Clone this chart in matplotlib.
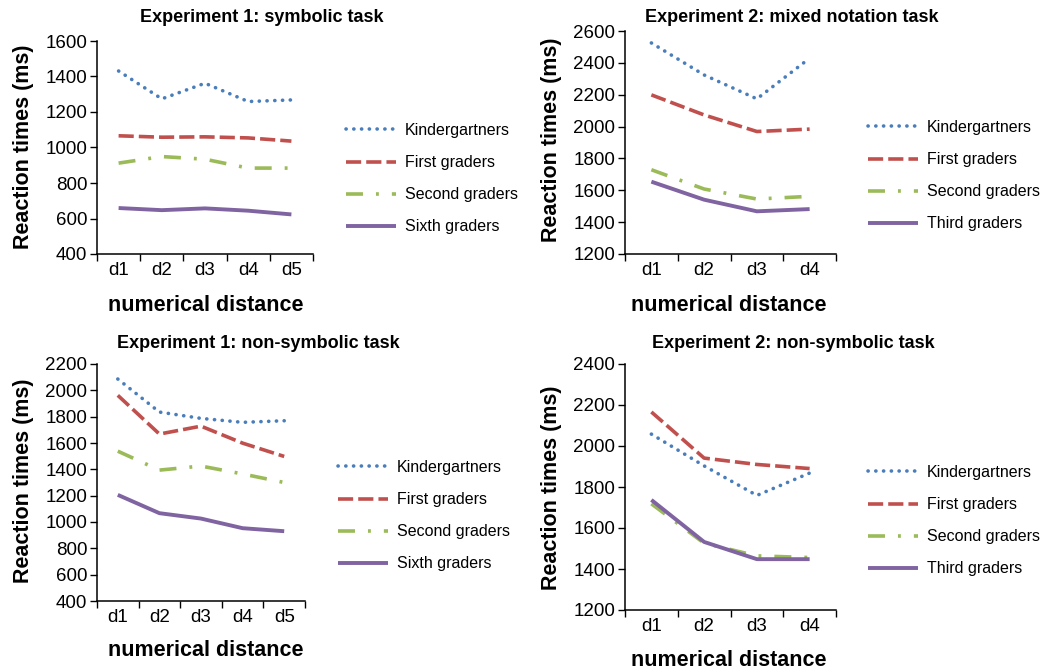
import matplotlib
matplotlib.use("Agg")
import matplotlib.pyplot as plt
import numpy as np

plt.rcParams['font.family'] = ['Liberation Sans', 'DejaVu Sans']

# ---------------- data ----------------
cats5 = ["d1", "d2", "d3", "d4", "d5"]
cats4 = ["d1", "d2", "d3", "d4"]

groups_exp1 = ["Kindergartners", "First graders", "Second graders", "Sixth graders"]
groups_exp2 = ["Kindergartners", "First graders", "Second graders", "Third graders"]

# Experiment 1: symbolic task
e1s_kinder = [1431, 1274, 1362, 1259, 1268]
e1s_first = [1066, 1058, 1060, 1054, 1036]
e1s_second = [912, 949, 934, 884, 884]
e1s_sixth = [659, 647, 657, 644, 623]

# Experiment 2: mixed notation task
e2m_kinder = [2525, 2324, 2174, 2429]
e2m_first = [2199, 2073, 1969, 1984]
e2m_second = [1729, 1608, 1545, 1562]
e2m_third = [1654, 1541, 1468, 1482]

# Experiment 1: non-symbolic task
e1n_kinder = [2086, 1835, 1787, 1757, 1769]
e1n_first = [1962, 1668, 1728, 1599, 1498]
e1n_second = [1538, 1394, 1425, 1365, 1300]
e1n_sixth = [1206, 1067, 1026, 953, 930]

# Experiment 2: non-symbolic task
e2n_kinder = [2058, 1903, 1759, 1868]
e2n_first = [2166, 1941, 1910, 1890]
e2n_second = [1718, 1526, 1464, 1456]
e2n_third = [1737, 1532, 1448, 1448]

# ---------------- styles ----------------
W, H = 1041, 672
styles = [
    dict(color="#4a7ebb", lw=2.6, linestyle=(0, (0.05, 2.1)), dash_capstyle="round"),
    dict(color="#c0504d", lw=2.6, linestyle=(0, (4.2, 1.4))),
    dict(color="#9bbb59", lw=2.6, linestyle=(0, (4.7, 3.6, 0.8, 3.6))),
    dict(color="#8064a2", lw=2.8, linestyle="-"),
]

fig = plt.figure(figsize=(W / 100, H / 100), dpi=100)


def px_axes(left, right, top, bottom):
    return fig.add_axes([left / W, 1 - bottom / H, (right - left) / W, (bottom - top) / H])


def make_panel(box, cats, series, labels, ylim, ystep, title, title_xy,
               xlabel_xy, ylabel_xy, legend_xy, xtick_pad):
    ax = px_axes(*box)
    x = np.arange(1, len(cats) + 1)
    for vals, lab, st in zip(series, labels, styles):
        ax.plot(x, vals, label=lab, solid_capstyle="butt", **st)
    ax.set_xlim(0.5, len(cats) + 0.5)
    ax.set_ylim(*ylim)
    ax.set_yticks(np.arange(ylim[0], ylim[1] + 1, ystep))
    ax.set_xticks(np.arange(0.5, len(cats) + 1, 1.0))
    ax.set_xticklabels([])
    ax.set_xticks(x, minor=True)
    ax.set_xticklabels(cats, minor=True, fontsize=13.5)
    ax.tick_params(axis="x", which="minor", length=0, pad=xtick_pad)
    ax.tick_params(axis="x", which="major", length=5, width=1, direction="out")
    ax.tick_params(axis="y", length=5, width=1, direction="out", labelsize=13.5, pad=2)
    for s in ("top", "right"):
        ax.spines[s].set_visible(False)
    for s in ("left", "bottom"):
        ax.spines[s].set_linewidth(1.1)
    fig.text(title_xy[0] / W, 1 - title_xy[1] / H, title, ha="center", va="center",
             fontsize=13, fontweight="bold")
    fig.text(xlabel_xy[0] / W, 1 - xlabel_xy[1] / H, "numerical distance", ha="center",
             va="center", fontsize=15.5, fontweight="bold")
    fig.text(ylabel_xy[0] / W, 1 - ylabel_xy[1] / H, "Reaction times (ms)", ha="center",
             va="center", rotation=90, fontsize=15.5, fontweight="bold")
    ax.legend(loc="upper left", bbox_to_anchor=(legend_xy[0] / W, 1 - legend_xy[1] / H),
              bbox_transform=fig.transFigure, frameon=False, fontsize=11.5,
              handlelength=3.1, handletextpad=0.6, labelspacing=1.07,
              borderpad=0, borderaxespad=0)
    return ax


make_panel((97, 313, 41, 254), cats5,
           [e1s_kinder, e1s_first, e1s_second, e1s_sixth], groups_exp1,
           (400, 1600), 200, "Experiment 1: symbolic task", (262, 18),
           (206, 306), (24, 147), (346, 123), 6)

make_panel((625, 836, 31, 254), cats4,
           [e2m_kinder, e2m_first, e2m_second, e2m_third], groups_exp2,
           (1200, 2600), 200, "Experiment 2: mixed notation task", (792, 17),
           (729, 306), (552, 140), (868, 120), 6)

make_panel((97, 305, 364, 601), cats5,
           [e1n_kinder, e1n_first, e1n_second, e1n_sixth], groups_exp1,
           (400, 2200), 200, "Experiment 1: non-symbolic task", (258, 343),
           (206, 651), (24, 481), (338, 460), 6)

make_panel((625, 836, 364, 610), cats4,
           [e2n_kinder, e2n_first, e2n_second, e2n_third], groups_exp2,
           (1200, 2400), 200, "Experiment 2: non-symbolic task", (793, 343),
           (729, 660), (552, 488), (868, 465), 6)

fig.savefig("out.png", dpi=100)
